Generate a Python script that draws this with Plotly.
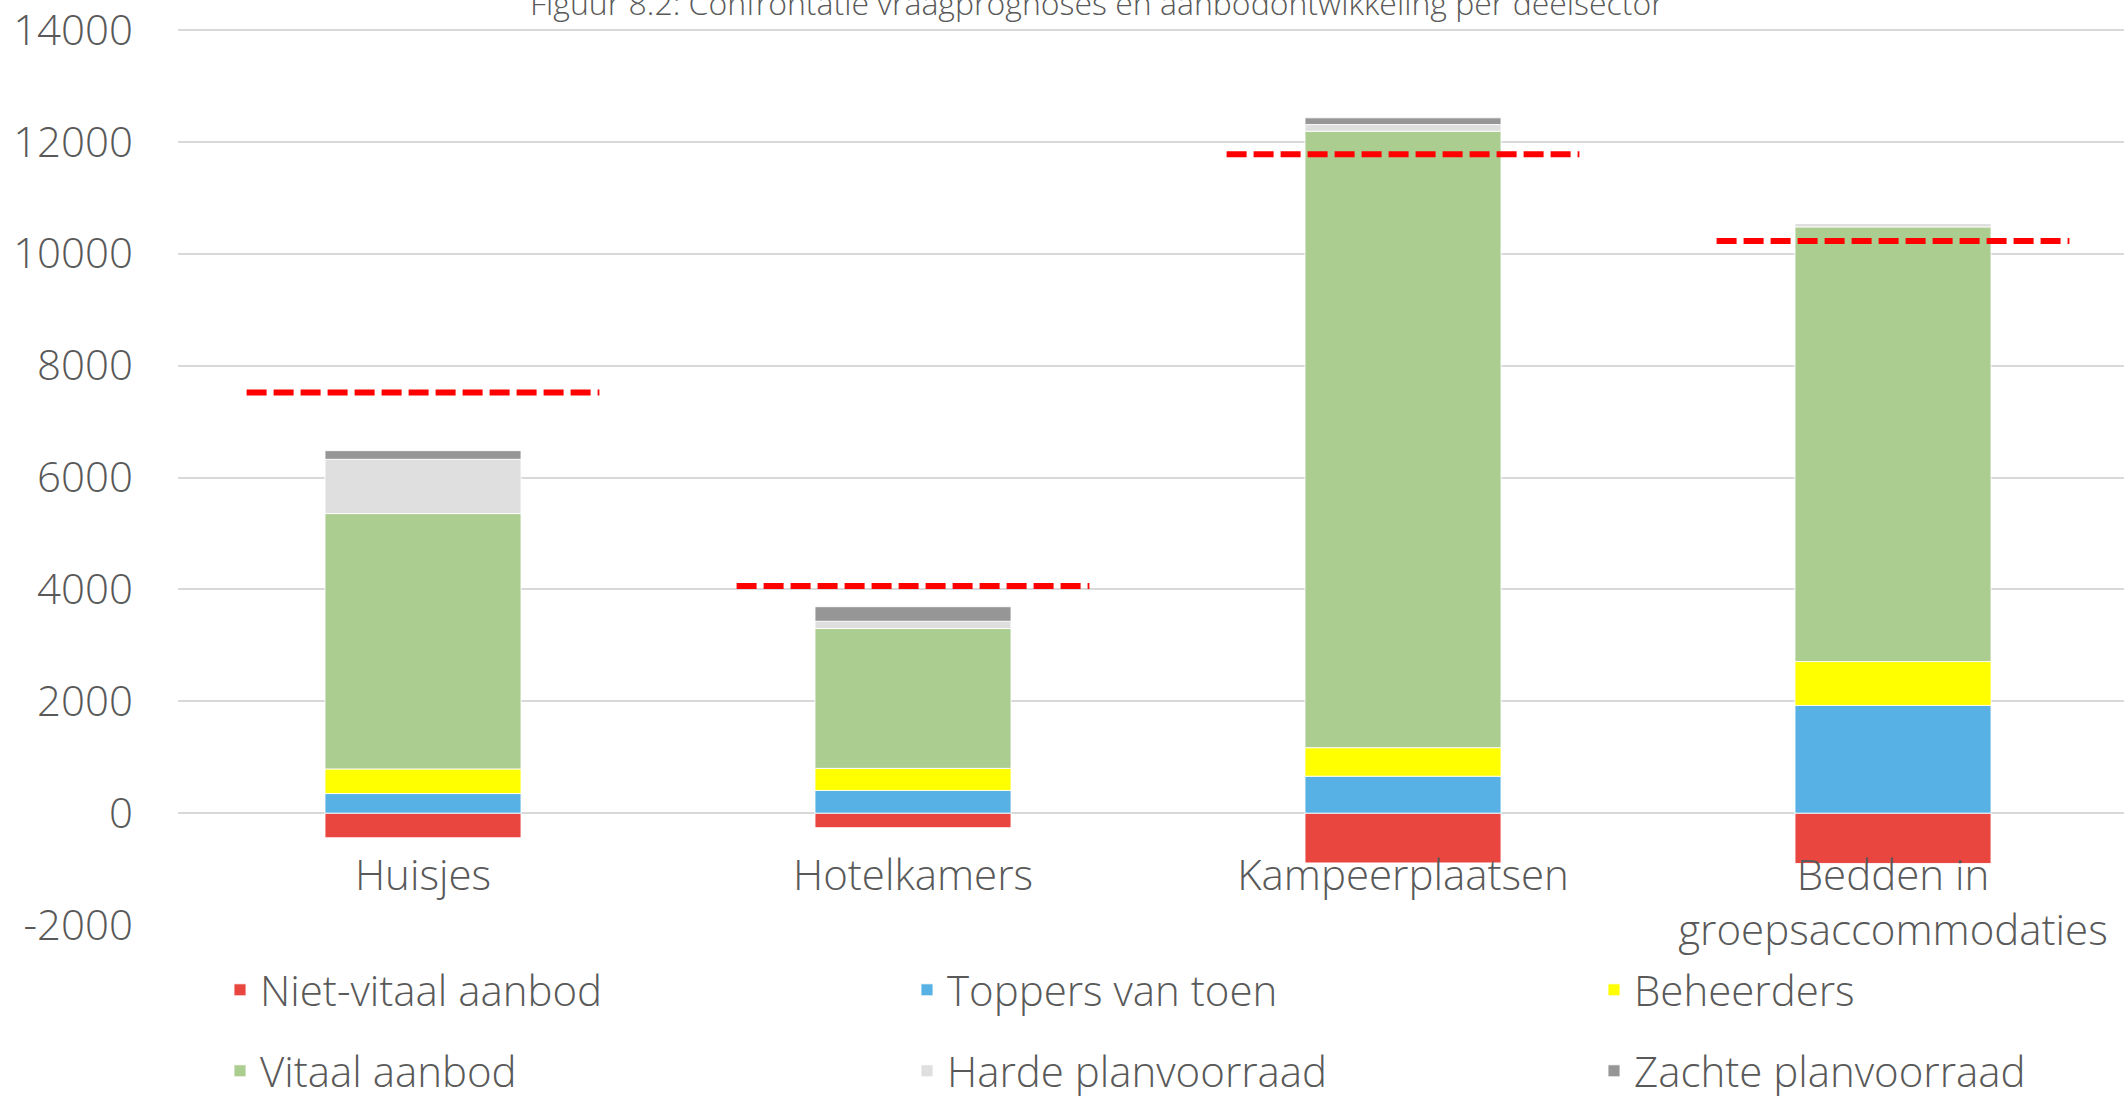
import plotly.graph_objects as go

# ---- data ----
categories = ["Huisjes", "Hotelkamers", "Kampeerplaatsen", "Bedden in<br>groepsaccommodaties"]
niet_vitaal = [-440, -260, -890, -900]
toppers = [350, 405, 660, 1925]
beheerders = [440, 395, 510, 785]
vitaal = [4565, 2500, 11020, 7770]
harde_plan = [970, 130, 120, 65]
zachte_plan = [155, 260, 120, 0]
vraagprognose = [7520, 4060, 11780, 10230]

y_tickvals = [-2000, 0, 2000, 4000, 6000, 8000, 10000, 12000, 14000]
y_ticktext = ["-2000", "0", "2000", "4000", "6000", "8000", "10000", "12000", "14000"]

series_names = ["Niet-vitaal aanbod", "Toppers van toen", "Beheerders",
                "Vitaal aanbod", "Harde planvoorraad", "Zachte planvoorraad"]
series_values = [niet_vitaal, toppers, beheerders, vitaal, harde_plan, zachte_plan]
series_colors = ["#E94640", "#58B1E4", "#FFFF00", "#ACCD90", "#DFDFDF", "#969696"]

FONT = "Open Sans"
GRAY = "#595959"

fig = go.Figure()
legend_ids = ["legend", "legend2", "legend3", "legend4", "legend5", "legend6"]
for name, vals, color, lg in zip(series_names, series_values, series_colors, legend_ids):
    fig.add_trace(go.Bar(
        name=name, x=categories, y=vals, width=0.4,
        marker=dict(color=color, line=dict(color="rgba(255,255,255,0.85)", width=1)),
        legend=lg,
    ))

# demand forecast as dashed horizontal segments (numeric overlay axis)
half = 0.36
lx, ly = [], []
for i, v in enumerate(vraagprognose):
    lx += [i - half, i + half, None]
    ly += [v, v, None]
fig.add_trace(go.Scatter(
    x=lx, y=ly, xaxis="x2", mode="lines", showlegend=False,
    line=dict(color="#FF0000", width=6, dash="20px,7px"),
))

xrange = [-0.5, -0.5 + 1946 / 490]
# small headroom so the top gridline (14000) is drawn just inside the plot area
yrange = [-2000, 14036]
legend_font = dict(family=FONT, size=42, color=GRAY, weight=300)

# legend grid: 3 columns x 2 rows
col_x = [220, 907, 1594]
row_y = [990, 1071]
legend_layout = {}
for k, lg in enumerate(legend_ids):
    legend_layout[lg] = dict(
        orientation="v", xref="container", yref="container",
        x=col_x[k % 3] / 2124, y=1 - row_y[k // 3] / 1096,
        xanchor="left", yanchor="middle",
        font=legend_font, bgcolor="rgba(0,0,0,0)",
    )

fig.update_layout(
    width=2124, height=1096,
    barmode="relative",
    plot_bgcolor="white", paper_bgcolor="white",
    margin=dict(l=178, r=0, t=28, b=171, autoexpand=False),
    font=dict(family=FONT, color=GRAY, size=42, weight=300),
    xaxis=dict(
        type="category", range=xrange, anchor="free", position=2000 / 16036,
        showgrid=False, showline=False, zeroline=False, ticks="",
        tickfont=dict(family=FONT, size=42, color=GRAY, weight=300),
        ticklabelstandoff=34, automargin=False,
    ),
    xaxis2=dict(
        overlaying="x", range=xrange, visible=False, showgrid=False, zeroline=False,
    ),
    yaxis=dict(
        range=yrange, tickvals=y_tickvals, ticktext=y_ticktext,
        showgrid=True, gridcolor="#D9D9D9", gridwidth=2, zeroline=False,
        showline=False, ticks="", ticklabelstandoff=44, ticklabeloverflow="allow",
        tickfont=dict(family=FONT, size=42, color=GRAY, weight=300),
        automargin=False,
    ),
    annotations=[dict(
        text="Figuur 8.2: Confrontatie vraagprognoses en aanbodontwikkeling per deelsector",
        font=dict(family=FONT, size=32, color=GRAY, weight=300),
        xref="paper", x=(1097 - 178) / 1946, xanchor="center",
        yref="paper", y=1 + (28 - 2) / 897, yanchor="middle",
        showarrow=False,
    )],
    **legend_layout,
)

fig.write_html(
    "out.html",
    config={"displayModeBar": False},
    post_script="document.body.style.margin='0';",
)
